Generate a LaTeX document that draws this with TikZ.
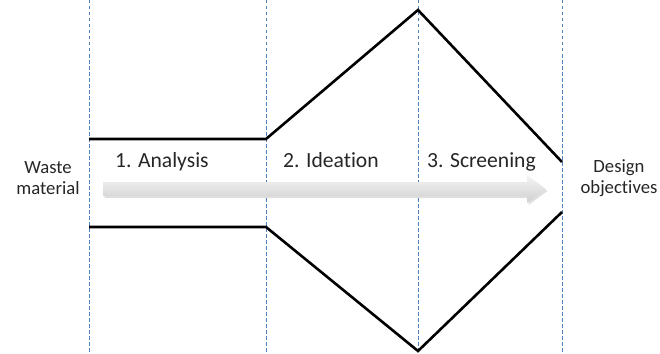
\documentclass[tikz,border=0pt]{standalone}
\usepackage{fontspec}
\setmainfont{Carlito}[Ligatures=NoCommon]
\usetikzlibrary{shadows}
\definecolor{guideblue}{RGB}{79,129,189}
\definecolor{labelgray}{RGB}{38,38,38}
\begin{document}
\begin{tikzpicture}[x=1pt,y=-1pt,
  guide/.style={guideblue, line width=1pt, dash pattern=on 3.5pt off 2.5pt},
  funnel/.style={black, line width=2.6pt, line join=miter},
  lbl/.style={inner sep=0pt, text=labelgray, font=\fontsize{21.6}{21}\selectfont},
  endlbl/.style={inner sep=0pt, text=labelgray, align=center,
    font=\fontsize{18.7}{21}\selectfont}]
  \useasboundingbox (0,0) rectangle (660,353);

  % phase boundaries
  \foreach \n/\x in {a/89, b/266, c/418, d/562} {
    \coordinate (\n top) at (\x,0);
    \coordinate (\n bot) at (\x,353);
    \draw[guide] (\n top) -- (\n bot);
  }

  % funnel outline: narrow analysis channel, then diverge and converge
  \coordinate (t1) at (89,139);
  \coordinate (t2) at (266,139);
  \coordinate (t3) at (418,10);
  \coordinate (t4) at (562,162);
  \coordinate (b1) at (89,227);
  \coordinate (b2) at (266,227);
  \coordinate (b3) at (418,351);
  \coordinate (b4) at (562,212);
  \draw[funnel] (t1) -- (t2) -- (t3) -- (t4);
  \draw[funnel] (b1) -- (b2) -- (b3) -- (b4);

  % process arrow
  \path[top color=gray!8, bottom color=gray!38, draw=none,
        drop shadow={opacity=0.25, shadow xshift=1.5pt, shadow yshift=-2pt}]
    (103,182) -- (527,182) -- (527,175) -- (546,189) -- (527,203)
    -- (527,196) -- (103,196) -- cycle;

  % phase labels
  \node[lbl, anchor=base west] (p1) at (115,167) {1. Analysis};
  \node[lbl, anchor=base west] (p2) at (283,167) {2. Ideation};
  \node[lbl, anchor=base west] (p3) at (427,167) {3. Screening};

  % input and output
  \node[endlbl] (in) at (48,178) {Waste\\material};
  \node[endlbl] (out) at (619,178) {Design\\objectives};
\end{tikzpicture}
\end{document}
